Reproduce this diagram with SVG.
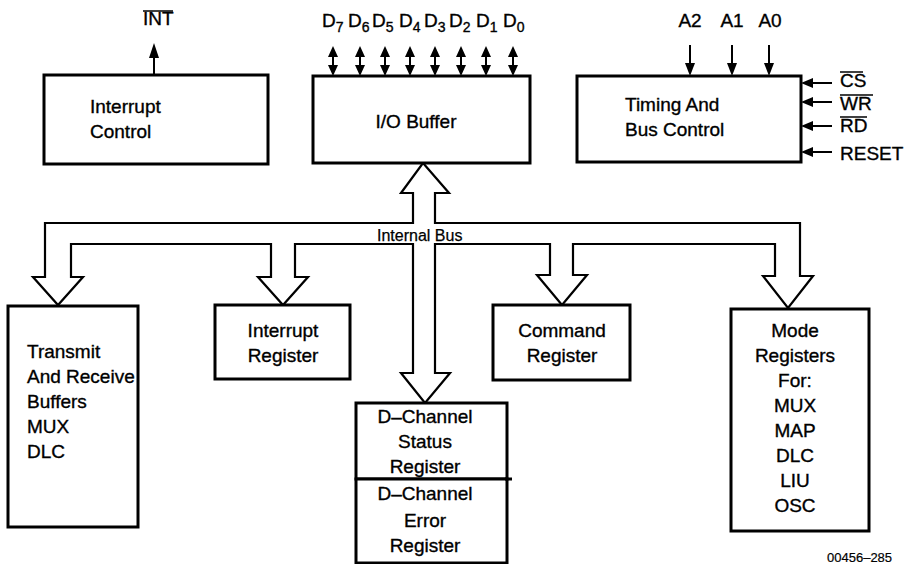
<svg xmlns="http://www.w3.org/2000/svg" width="910" height="564" viewBox="0 0 910 564">
<style>
.box{fill:#fff;stroke:#000;stroke-width:3}
.t{font-family:"Liberation Sans",Arial,sans-serif;font-size:19px;fill:#000;stroke:#000;stroke-width:0.35}
.c{text-anchor:middle}
.sub{font-size:14px}
.ln{stroke:#000;stroke-width:2;fill:none}
.hd{fill:#000;stroke:none}
.bus{fill:#fff;stroke:#000;stroke-width:2.2;stroke-linejoin:miter}
</style>
<rect width="910" height="564" fill="#fff"/>

<g id="connectors">
  <!-- internal bus -->
  <path class="bus" d="M423,163 L449,193 L435,193 L435,223 L800,223 L800,276 L813,276 L788,308 L763,276 L775,276 L775,244 L573,244 L573,275 L587,275 L562,305 L537,275 L550,275 L550,244 L435,244 L435,373 L450,373 L425,403 L401,373 L413,373 L413,244 L295,244 L295,277 L308,277 L283,305 L258,277 L271,277 L271,244 L71,244 L71,277 L83,277 L58,305 L33,277 L45,277 L45,223 L413,223 L413,193 L401,193 Z"/>
  <text class="t" x="377" y="241" style="font-size:16px;stroke-width:0.25">Internal Bus</text>
  <!-- INT output -->
  <line class="ln" x1="154" y1="75" x2="154" y2="56"/>
  <polygon class="hd" points="154,43 149,58 159,58"/>
  <!-- data bus double arrows -->
  <g id="databus">
    <line class="ln" x1="333" y1="52" x2="333" y2="70"/><polygon class="hd" points="333,46 328,57 338,57"/><polygon class="hd" points="333,76 328,65 338,65"/>
    <line class="ln" x1="360" y1="52" x2="360" y2="70"/><polygon class="hd" points="360,46 355,57 365,57"/><polygon class="hd" points="360,76 355,65 365,65"/>
    <line class="ln" x1="385" y1="52" x2="385" y2="70"/><polygon class="hd" points="385,46 380,57 390,57"/><polygon class="hd" points="385,76 380,65 390,65"/>
    <line class="ln" x1="410" y1="52" x2="410" y2="70"/><polygon class="hd" points="410,46 405,57 415,57"/><polygon class="hd" points="410,76 405,65 415,65"/>
    <line class="ln" x1="435" y1="52" x2="435" y2="70"/><polygon class="hd" points="435,46 430,57 440,57"/><polygon class="hd" points="435,76 430,65 440,65"/>
    <line class="ln" x1="461" y1="52" x2="461" y2="70"/><polygon class="hd" points="461,46 456,57 466,57"/><polygon class="hd" points="461,76 456,65 466,65"/>
    <line class="ln" x1="486" y1="52" x2="486" y2="70"/><polygon class="hd" points="486,46 481,57 491,57"/><polygon class="hd" points="486,76 481,65 491,65"/>
    <line class="ln" x1="513" y1="52" x2="513" y2="70"/><polygon class="hd" points="513,46 508,57 518,57"/><polygon class="hd" points="513,76 508,65 518,65"/>
  </g>
  <!-- address inputs -->
  <line class="ln" x1="690" y1="45" x2="690" y2="66"/><polygon class="hd" points="690,76 685,63 695,63"/>
  <line class="ln" x1="732" y1="45" x2="732" y2="66"/><polygon class="hd" points="732,76 727,63 737,63"/>
  <line class="ln" x1="769" y1="45" x2="769" y2="66"/><polygon class="hd" points="769,76 764,63 774,63"/>
  <!-- control inputs -->
  <line class="ln" x1="832" y1="83" x2="811" y2="83"/><polygon class="hd" points="801,83 813,78 813,88"/>
  <line class="ln" x1="832" y1="102" x2="811" y2="102"/><polygon class="hd" points="801,102 813,97 813,107"/>
  <line class="ln" x1="832" y1="126" x2="811" y2="126"/><polygon class="hd" points="801,126 813,121 813,131"/>
  <line class="ln" x1="832" y1="152" x2="811" y2="152"/><polygon class="hd" points="801,152 813,147 813,157"/>
</g>

<g id="pin-labels">
  <text class="t" x="143" y="25">INT</text>
  <line class="ln" x1="143" y1="11" x2="173" y2="11" style="stroke-width:1.5"/>
  <text class="t" x="322" y="27">D<tspan class="sub" dy="5">7</tspan></text>
  <text class="t" x="348" y="27">D<tspan class="sub" dy="5">6</tspan></text>
  <text class="t" x="372" y="27">D<tspan class="sub" dy="5">5</tspan></text>
  <text class="t" x="399" y="27">D<tspan class="sub" dy="5">4</tspan></text>
  <text class="t" x="424" y="27">D<tspan class="sub" dy="5">3</tspan></text>
  <text class="t" x="449" y="27">D<tspan class="sub" dy="5">2</tspan></text>
  <text class="t" x="476" y="27">D<tspan class="sub" dy="5">1</tspan></text>
  <text class="t" x="503" y="27">D<tspan class="sub" dy="5">0</tspan></text>
  <text class="t c" x="690" y="27">A2</text>
  <text class="t c" x="732" y="27">A1</text>
  <text class="t c" x="770" y="27">A0</text>
  <text class="t" x="840" y="87">CS</text>
  <line class="ln" x1="840" y1="72" x2="863" y2="72" style="stroke-width:1.5"/>
  <text class="t" x="840" y="110">WR</text>
  <line class="ln" x1="840" y1="95" x2="873" y2="95" style="stroke-width:1.5"/>
  <text class="t" x="840" y="132">RD</text>
  <line class="ln" x1="840" y1="117" x2="867" y2="117" style="stroke-width:1.5"/>
  <text class="t" x="840" y="160">RESET</text>
</g>

<g id="interrupt-control">
  <rect class="box" x="44" y="75" width="224" height="89"/>
  <text class="t" x="90" y="113">Interrupt</text>
  <text class="t" x="90" y="138">Control</text>
</g>
<g id="io-buffer">
  <rect class="box" x="313" y="76" width="217" height="87"/>
  <text class="t c" x="416" y="128">I/O Buffer</text>
</g>
<g id="timing-bus-control">
  <rect class="box" x="577" y="76" width="224" height="86"/>
  <text class="t" x="625" y="111">Timing And</text>
  <text class="t" x="625" y="136">Bus Control</text>
</g>
<g id="transmit-receive">
  <rect class="box" x="8" y="306" width="130" height="221"/>
  <text class="t" x="27" y="358">Transmit</text>
  <text class="t" x="27" y="383">And Receive</text>
  <text class="t" x="27" y="408">Buffers</text>
  <text class="t" x="27" y="433">MUX</text>
  <text class="t" x="27" y="458">DLC</text>
</g>
<g id="interrupt-register">
  <rect class="box" x="215" y="305" width="135" height="74"/>
  <text class="t c" x="283" y="337">Interrupt</text>
  <text class="t c" x="283" y="362">Register</text>
</g>
<g id="command-register">
  <rect class="box" x="493" y="305" width="137" height="75"/>
  <text class="t c" x="562" y="337">Command</text>
  <text class="t c" x="562" y="362">Register</text>
</g>
<g id="d-channel-status">
  <rect class="box" x="356" y="403" width="151" height="76"/>
  <text class="t c" x="425" y="423">D–Channel</text>
  <text class="t c" x="425" y="448">Status</text>
  <text class="t c" x="425" y="473">Register</text>
</g>
<g id="d-channel-error">
  <rect class="box" x="356" y="479" width="151" height="84"/>
  <line x1="505" y1="479" x2="512" y2="479" stroke="#000" stroke-width="3"/>
  <text class="t c" x="425" y="500">D–Channel</text>
  <text class="t c" x="425" y="527">Error</text>
  <text class="t c" x="425" y="552">Register</text>
</g>
<g id="mode-registers">
  <rect class="box" x="731" y="309" width="138" height="222"/>
  <text class="t c" x="795" y="337">Mode</text>
  <text class="t c" x="795" y="362">Registers</text>
  <text class="t c" x="795" y="387">For:</text>
  <text class="t c" x="795" y="412">MUX</text>
  <text class="t c" x="795" y="437">MAP</text>
  <text class="t c" x="795" y="462">DLC</text>
  <text class="t c" x="795" y="487">LIU</text>
  <text class="t c" x="795" y="512">OSC</text>
</g>
<text class="t" x="827" y="562" style="font-size:13px;stroke-width:0.2">00456–285</text>
</svg>
